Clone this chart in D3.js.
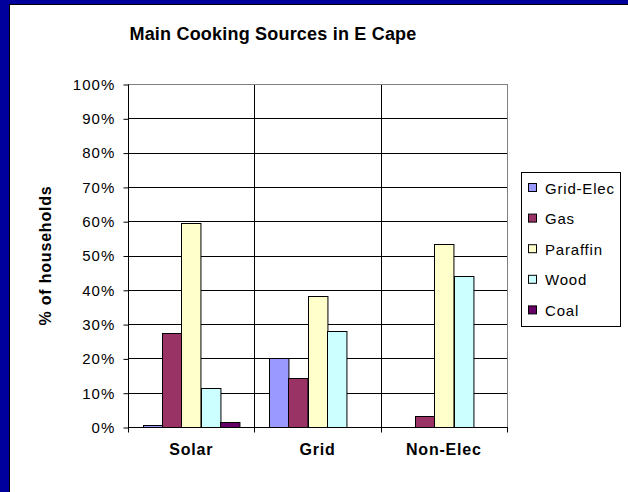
<!DOCTYPE html>
<html>
<head>
<meta charset="utf-8">
<script src="https://cdn.jsdelivr.net/npm/d3@7/dist/d3.min.js"></script>
<style>
  html, body { margin: 0; padding: 0; background: #fff; }
  svg { display: block; font-family: Arial, "Liberation Sans", sans-serif; }
</style>
</head>
<body>
<svg id="chart" width="628" height="492"></svg>
<script>
// Household cooking sources by electrification type, Eastern Cape (% of households)
const categories = ["Solar", "Grid", "Non-Elec"];
const seriesNames = ["Grid-Elec", "Gas", "Paraffin", "Wood", "Coal"];
const gridElec = [0.5, 20.0, 0];
const gas      = [27.3, 14.2, 3.3];
const paraffin = [59.6, 38.3, 53.3];
const wood     = [11.4, 27.9, 44.0];
const coal     = [1.4, 0, 0];
const seriesValues = [gridElec, gas, paraffin, wood, coal];
const seriesColors = ["#9999ff", "#993366", "#ffffcc", "#ccffff", "#660066"];
const yTicks = [0, 10, 20, 30, 40, 50, 60, 70, 80, 90, 100];

const svg = d3.select("#chart");

// Frame: navy band on the top and left edges
svg.append("rect").attr("x", 0).attr("y", 0).attr("width", 628).attr("height", 492).attr("fill", "#fff");
svg.append("rect").attr("x", 0).attr("y", 0).attr("width", 9).attr("height", 492).attr("fill", "#00009c");
svg.append("rect").attr("x", 0).attr("y", 0).attr("width", 628).attr("height", 4).attr("fill", "#00009c");
svg.append("line").attr("x1", 9.5).attr("x2", 9.5).attr("y1", 4).attr("y2", 492).attr("stroke", "#000");
svg.append("line").attr("x1", 9).attr("x2", 628).attr("y1", 4.5).attr("y2", 4.5).attr("stroke", "#000");

const plot = { left: 128, right: 507, top: 84, bottom: 427 };

const y = d3.scaleLinear().domain([0, 100]).range([plot.bottom, plot.top]);
const x0 = d3.scaleBand().domain(categories).range([plot.left, plot.right]).paddingInner(0).paddingOuter(0);
const x1 = d3.scaleBand().domain(seriesNames).range([0, x0.bandwidth()]).paddingInner(0).paddingOuter(0.75);

// Title
svg.append("text")
  .attr("x", 273).attr("y", 40)
  .attr("text-anchor", "middle")
  .attr("font-size", 18).attr("font-weight", "bold")
  .attr("letter-spacing", 0.2)
  .text("Main Cooking Sources in E Cape");

// Horizontal gridlines
svg.append("g").selectAll("line")
  .data(yTicks.filter(t => t > 0 && t < 100))
  .join("line")
  .attr("x1", plot.left).attr("x2", plot.right)
  .attr("y1", d => Math.round(y(d)) + 0.5).attr("y2", d => Math.round(y(d)) + 0.5)
  .attr("stroke", "#000");

// Vertical separators between categories
svg.append("g").selectAll("line")
  .data(categories.slice(1))
  .join("line")
  .attr("x1", d => Math.round(x0(d)) + 0.5).attr("x2", d => Math.round(x0(d)) + 0.5)
  .attr("y1", plot.top).attr("y2", plot.bottom)
  .attr("stroke", "#000");

// Plot area border (top and right)
svg.append("line").attr("x1", plot.left).attr("x2", plot.right + 0.5)
  .attr("y1", Math.round(y(100)) + 0.5).attr("y2", Math.round(y(100)) + 0.5).attr("stroke", "#808080");
svg.append("line").attr("x1", plot.right + 0.5).attr("x2", plot.right + 0.5)
  .attr("y1", plot.top).attr("y2", plot.bottom).attr("stroke", "#808080");

// Bars
const barData = [];
categories.forEach((c, ci) => {
  seriesNames.forEach((s, si) => {
    const v = seriesValues[si][ci];
    if (v > 0) barData.push({ c, s, v, color: seriesColors[si] });
  });
});
svg.append("g").selectAll("rect")
  .data(barData)
  .join("rect")
  .attr("x", d => Math.round(x0(d.c) + x1(d.s)) + 0.5)
  .attr("y", d => Math.round(y(d.v)) + 0.5)
  .attr("width", x1.bandwidth())
  .attr("height", d => Math.max(0, plot.bottom - Math.round(y(d.v))))
  .attr("fill", d => d.color)
  .attr("stroke", "#000")
  .attr("stroke-width", 1);

// Y axis
const yAxis = d3.axisLeft(y).tickValues(yTicks).tickFormat(d => d + "%").tickSize(5).tickPadding(8);
const yg = svg.append("g").attr("transform", `translate(${plot.left + 0.5},0.5)`).call(yAxis);
yg.select(".domain").attr("d", `M0,${plot.top}V${plot.bottom}`).attr("stroke", "#000");
yg.selectAll(".tick line").attr("stroke", "#000");
yg.selectAll(".tick text")
  .attr("font-size", 15).attr("letter-spacing", 1.1)
  .attr("font-family", "Arial, 'Liberation Sans', sans-serif").attr("fill", "#000");

// X axis
const xAxis = d3.axisBottom(x0).tickSize(0).tickPadding(16);
const xg = svg.append("g").attr("transform", `translate(0,${plot.bottom + 0.5})`).call(xAxis);
xg.select(".domain").attr("d", `M${plot.left},0H${plot.right + 1}`).attr("stroke", "#000");
xg.selectAll(".tick text")
  .attr("font-size", 16).attr("font-weight", "bold").attr("letter-spacing", 0.8)
  .attr("font-family", "Arial, 'Liberation Sans', sans-serif").attr("fill", "#000");
// Tick marks at category boundaries
xg.append("g").selectAll("line")
  .data([plot.left, ...categories.slice(1).map(c => x0(c)), plot.right])
  .join("line")
  .attr("x1", d => Math.round(d) + 0.5).attr("x2", d => Math.round(d) + 0.5)
  .attr("y1", 0).attr("y2", 5)
  .attr("stroke", "#000");

// Y axis title
svg.append("text")
  .attr("transform", `translate(51,${(plot.top + plot.bottom) / 2}) rotate(-90)`)
  .attr("text-anchor", "middle")
  .attr("font-size", 16).attr("font-weight", "bold").attr("letter-spacing", 0.8)
  .text("% of households");

// Legend
const legend = svg.append("g");
legend.append("rect")
  .attr("x", 521.5).attr("y", 172.5).attr("width", 99).attr("height", 154)
  .attr("fill", "#fff").attr("stroke", "#000");
const items = legend.selectAll("g.item")
  .data(seriesNames)
  .join("g")
  .attr("class", "item")
  .attr("transform", (d, i) => `translate(0,${188 + i * 30.6})`);
items.append("rect")
  .attr("x", 528.5).attr("y", -4.5).attr("width", 8).attr("height", 8)
  .attr("fill", (d, i) => seriesColors[i]).attr("stroke", "#000");
items.append("text")
  .attr("x", 545).attr("y", 5.5)
  .attr("font-size", 15).attr("letter-spacing", 0.8)
  .text(d => d);
</script>
</body>
</html>
